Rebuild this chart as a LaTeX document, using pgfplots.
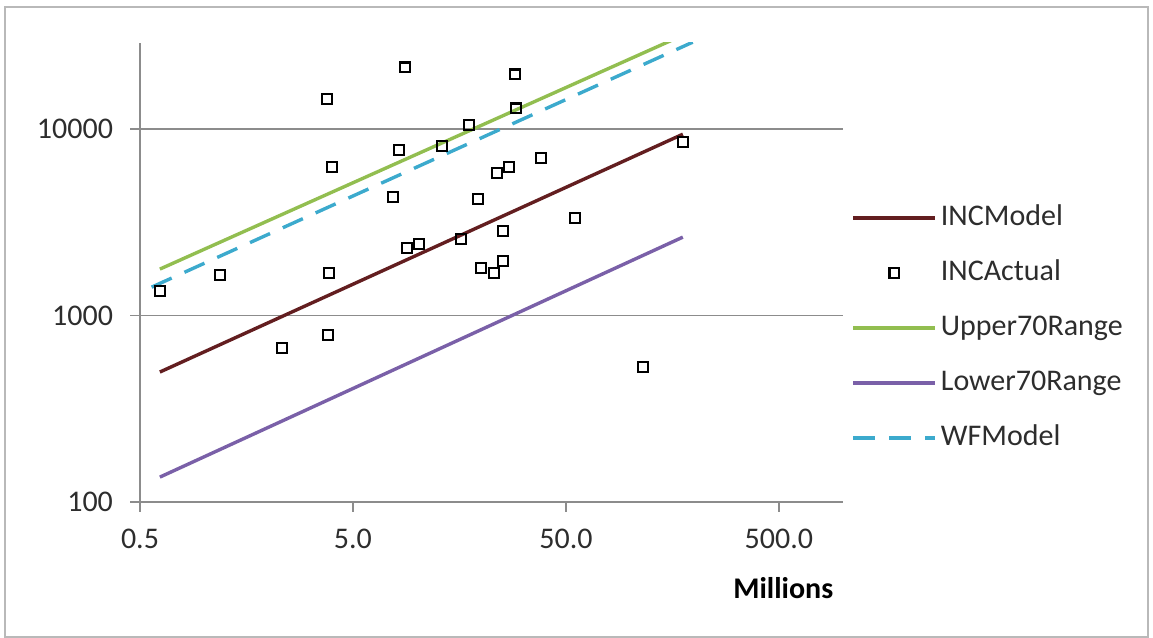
\documentclass[border=0pt]{standalone}
\usepackage{pgfplots}
\pgfplotsset{compat=1.18}
\usepackage{fontspec}
\setmainfont{Carlito}
\definecolor{incred}{RGB}{99,30,32}
\definecolor{upgreen}{RGB}{146,190,80}
\definecolor{lowpurple}{RGB}{122,96,168}
\definecolor{wfblue}{RGB}{60,170,205}
\definecolor{gridgray}{RGB}{140,140,140}
\definecolor{txt}{RGB}{45,45,45}
\begin{document}
\begin{tikzpicture}
\useasboundingbox (-70pt,-68pt) rectangle (506.5pt,251pt);
\draw[gray!55, line width=1.2pt] (-67.5pt,-67.5pt) rectangle (504pt,247.5pt);
\begin{axis}[
  at={(0pt,0pt)}, anchor=south west,
  scale only axis, width=351.5pt, height=229.5pt,
  xmode=log, ymode=log,
  xmin=0.5, xmax=1000, ymin=100, ymax=29000,
  axis lines=left,
  axis line style={-, draw=gridgray, line width=0.8pt},
  xtick={0.5,5,50,500}, xticklabels={0.5,5.0,50.0,500.0},
  ytick={100,1000,10000}, yticklabels={100,1000,10000},
  xminorticks=false, yminorticks=false,
  tick align=outside, major tick length=5pt,
  tick style={draw=gridgray, line width=0.8pt},
  ymajorgrids, grid style={draw=gridgray, line width=0.8pt},
  ticklabel style={font=\fontsize{15}{18}\selectfont, text=txt},
  xticklabel style={yshift=-5pt},
  yticklabel style={xshift=-5pt},
  xlabel={\textbf{Millions}},
  xlabel style={at={(axis description cs:0.915,-0.187)}, anchor=center, font=\fontsize{15}{18}\selectfont, text=black},
  legend style={at={(axis description cs:1.003,0.665)}, anchor=north west, draw=none, fill=none,
    font=\fontsize{15}{18}\selectfont, text=txt, row sep=10.5pt,
    nodes={text height=10pt, text depth=3pt, inner sep=2pt}},
  legend cell align=left,
  legend image code/.code={\draw[mark repeat=2,mark phase=2,#1] plot coordinates {(0pt,0pt) (20.5pt,0pt) (41pt,0pt)};},
]
\addplot[incred, line width=1.7pt] coordinates {(0.62,498) (177,9400)};
\addlegendentry{INCModel}
\addplot[only marks, mark=square, mark size=2.4pt, mark options={draw=black, line width=1.1pt}] coordinates {
(0.62,1353) (1.19,1649) (2.32,670) (3.77,14490) (3.81,786) (3.86,1690) (3.98,6255)
(7.71,4320) (8.22,7720) (8.77,21500) (8.96,2300) (10.2,2417) (13.1,8110) (16.1,2572)
(17.5,10510) (19.3,4214) (19.95,1797) (22.96,1690) (23.7,5808) (25.3,2839) (25.3,1960)
(27.0,6255) (28.8,19720) (29.1,12960) (38.2,6990) (55.1,3333) (115,530) (177,8520)};
\addlegendentry{INCActual}
\addplot[upgreen, line width=1.7pt] coordinates {(0.62,1776) (177,31900)};
\addlegendentry{Upper70Range}
\addplot[lowpurple, line width=1.7pt] coordinates {(0.62,136) (177,2636)};
\addlegendentry{Lower70Range}
\addplot[wfblue, line width=1.7pt, dash pattern=on 11pt off 7pt] coordinates {(0.567,1421) (197,29300)};
\addlegendentry{WFModel}
\end{axis}
\end{tikzpicture}
\end{document}
